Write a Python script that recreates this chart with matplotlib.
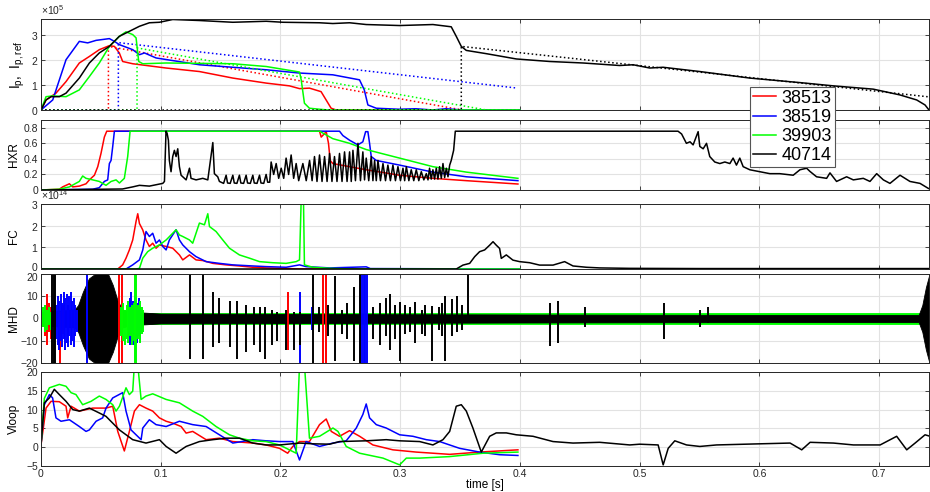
import numpy as np
import matplotlib
matplotlib.use('Agg')
import matplotlib.pyplot as plt
import matplotlib.transforms as mtransforms
from matplotlib.ticker import FuncFormatter

plt.rcParams['font.family'] = ['Liberation Sans', 'DejaVu Sans']
plt.rcParams['mathtext.fontset'] = 'custom'
plt.rcParams['mathtext.rm'] = 'Liberation Sans'

shots = ['38513', '38519', '39903', '40714']
colors = ['#ff0000', '#0000ff', '#00ff00', '#000000']

# ---- Ip (units of 1e5 A), pairs (t [s], value)
ip_red = [(0, 0), (0.0042, 0.4), (0.0125, 0.67), (0.0209, 1.13), (0.032, 1.87), (0.0404, 2.13),
          (0.0487, 2.4), (0.0571, 2.56), (0.0613, 2.53), (0.0654, 2.27), (0.0682, 1.93),
          (0.0766, 1.84), (0.1045, 1.67), (0.1323, 1.53), (0.1602, 1.27), (0.1881, 1.07),
          (0.2075, 0.96), (0.2159, 0.85), (0.2242, 0.87), (0.2339, 0.73), (0.2381, 0.4),
          (0.2423, 0.07), (0.2465, 0), (0.4, 0)]
ip_blue = [(0, 0), (0.0098, 0.4), (0.0209, 2.0), (0.032, 2.73), (0.039, 2.67), (0.046, 2.77),
           (0.0571, 2.84), (0.0613, 2.73), (0.0654, 2.6), (0.0766, 2.4), (0.0822, 2.2),
           (0.0864, 2.27), (0.0961, 2.07), (0.1323, 1.8), (0.1881, 1.6), (0.2159, 1.47),
           (0.2437, 1.4), (0.266, 1.2), (0.270, 0.8), (0.273, 0.2), (0.28, 0.07), (0.299, 0.03),
           (0.313, 0.05), (0.327, 0), (0.338, 0.05), (0.352, 0), (0.4, 0)]
ip_green = [(0, 0), (0.0042, 0.53), (0.0098, 0.56), (0.0209, 0.53), (0.032, 0.8), (0.0404, 1.33),
            (0.0487, 1.87), (0.0571, 2.53), (0.0654, 2.93), (0.071, 3.11), (0.0766, 3.0),
            (0.0794, 2.87), (0.0816, 1.93), (0.085, 1.84), (0.1045, 1.87), (0.1602, 1.84),
            (0.1881, 1.73), (0.2159, 1.51), (0.2173, 1.2), (0.22, 0.27), (0.2242, 0.07),
            (0.2326, 0.03), (0.24, 0), (0.4, 0)]
ip_black = [(0, 0), (0.0042, 0.4), (0.0084, 0.53), (0.0153, 0.53), (0.0209, 0.67), (0.032, 1.27),
            (0.0404, 1.87), (0.0487, 2.27), (0.0571, 2.53), (0.0654, 2.93), (0.0738, 3.13),
            (0.0822, 3.33), (0.0905, 3.47), (0.0989, 3.49), (0.11, 3.6), (0.1323, 3.56),
            (0.1602, 3.49), (0.1881, 3.53), (0.202, 3.49), (0.2326, 3.47), (0.2437, 3.44),
            (0.2577, 3.47), (0.2716, 3.4), (0.2995, 3.36), (0.3273, 3.4), (0.3426, 3.31),
            (0.3468, 2.93), (0.351, 2.53), (0.3552, 2.37), (0.372, 2.24), (0.397, 2.03),
            (0.4248, 1.93), (0.4527, 1.87), (0.4833, 1.77), (0.4945, 1.8), (0.5084, 1.67),
            (0.5195, 1.7), (0.5502, 1.53), (0.592, 1.27), (0.6338, 1.09), (0.6617, 0.96),
            (0.695, 0.83), (0.7173, 0.6), (0.7313, 0.4), (0.7383, 0.2), (0.7416, 0)]
ipref_red = [(0, 0), (0.0563, 0), (0.0563, 2.53), (0.352, 0), (0.4, 0)]
ipref_blue = [(0, 0), (0.0646, 0), (0.0646, 2.68), (0.398, 0.87)]
ipref_green = [(0, 0), (0.0802, 0), (0.0802, 2.47), (0.372, 0), (0.4, 0)]
ipref_black = [(0, 0), (0.351, 0), (0.351, 2.53), (0.742, 0.52)]

# ---- HXR
hxr_red = [(0, 0), (0.0153, 0.01), (0.0181, 0.04), (0.0237, 0.08), (0.0265, 0.04), (0.032, 0.05),
           (0.0376, 0.08), (0.0404, 0.13), (0.0446, 0.19), (0.0474, 0.3), (0.0501, 0.47),
           (0.0529, 0.68), (0.0549, 0.756), (0.2326, 0.756), (0.234, 0.68), (0.2382, 0.75),
           (0.2401, 0.6), (0.2415, 0.38), (0.2437, 0.34), (0.2577, 0.3), (0.2716, 0.26),
           (0.2995, 0.19), (0.3273, 0.15), (0.3552, 0.12), (0.3983, 0.077)]
hxr_blue = [(0, 0), (0.0432, 0.01), (0.0487, 0.03), (0.0529, 0.11), (0.0557, 0.13), (0.0571, 0.34),
            (0.0585, 0.38), (0.0599, 0.56), (0.0613, 0.756), (0.2493, 0.756), (0.2521, 0.7),
            (0.2577, 0.64), (0.2646, 0.58), (0.2688, 0.62), (0.2711, 0.75), (0.273, 0.75),
            (0.2744, 0.6), (0.2758, 0.43), (0.28, 0.38), (0.2995, 0.32), (0.3273, 0.23),
            (0.3552, 0.17), (0.3983, 0.12)]
hxr_green = [(0, 0), (0.0153, 0.01), (0.0237, 0.04), (0.032, 0.11), (0.0348, 0.18), (0.0376, 0.15),
             (0.0432, 0.13), (0.0487, 0.11), (0.0543, 0.06), (0.0585, 0.11), (0.0627, 0.13),
             (0.0655, 0.09), (0.0696, 0.15), (0.0724, 0.43), (0.0744, 0.756), (0.2326, 0.756),
             (0.2437, 0.66), (0.2577, 0.6), (0.2716, 0.52), (0.2995, 0.41), (0.3273, 0.3),
             (0.3552, 0.23), (0.3983, 0.15)]
hxr_black = [(0, 0), (0.0487, 0.01), (0.068, 0.013), (0.0766, 0.04), (0.0822, 0.06), (0.0905, 0.05),
             (0.1017, 0.085), (0.1031, 0.11), (0.1044, 0.756), (0.1053, 0.73), (0.1064, 0.64),
             (0.1072, 0.38), (0.1086, 0.235), (0.11, 0.43), (0.1114, 0.51), (0.1128, 0.43),
             (0.1142, 0.53), (0.1156, 0.3), (0.117, 0.19), (0.1212, 0.13), (0.124, 0.28),
             (0.1253, 0.15), (0.1295, 0.13), (0.1351, 0.15), (0.1393, 0.13), (0.1435, 0.61),
             (0.1448, 0.21), (0.1476, 0.17), (0.149, 0.11), (0.1525, 0.085), (0.1546, 0.19),
             (0.1558, 0.09), (0.158, 0.085), (0.1602, 0.19), (0.1614, 0.09), (0.1636, 0.085),
             (0.1657, 0.19), (0.1669, 0.09), (0.1692, 0.085), (0.1713, 0.19), (0.1725, 0.09),
             (0.1748, 0.085), (0.1769, 0.19), (0.1781, 0.09), (0.1804, 0.085), (0.1825, 0.19),
             (0.1837, 0.09), (0.186, 0.085), (0.188, 0.2), (0.1893, 0.1), (0.191, 0.1),
             (0.1922, 0.36), (0.1943, 0.2),
             (0.1964, 0.34), (0.1985, 0.15), (0.2006, 0.28), (0.2027, 0.15), (0.2047, 0.41),
             (0.2068, 0.2), (0.2089, 0.45), (0.211, 0.15), (0.2131, 0.34), (0.2152, 0.12),
             (0.2187, 0.34), (0.2215, 0.12), (0.2243, 0.38), (0.2264, 0.12), (0.2284, 0.43),
             (0.2305, 0.11), (0.2326, 0.45), (0.2347, 0.11), (0.2368, 0.43), (0.2389, 0.11),
             (0.241, 0.47), (0.243, 0.11), (0.2451, 0.43), (0.2472, 0.11), (0.2493, 0.47),
             (0.2514, 0.11), (0.2535, 0.49), (0.2556, 0.11), (0.2577, 0.49), (0.2591, 0.11),
             (0.2605, 0.51), (0.2626, 0.12), (0.2647, 0.6), (0.2668, 0.12), (0.2688, 0.49),
             (0.2702, 0.13), (0.2716, 0.41), (0.2737, 0.12), (0.2758, 0.43), (0.2772, 0.12),
             (0.2786, 0.38), (0.28, 0.12), (0.2814, 0.38), (0.2835, 0.12), (0.2856, 0.34),
             (0.2877, 0.12), (0.2897, 0.32), (0.2918, 0.12), (0.2939, 0.32), (0.296, 0.12),
             (0.2981, 0.3), (0.3002, 0.12), (0.3023, 0.28), (0.3037, 0.12), (0.3051, 0.3),
             (0.3072, 0.12), (0.3092, 0.26), (0.3113, 0.12), (0.3134, 0.26), (0.3155, 0.12),
             (0.3176, 0.235), (0.3197, 0.13), (0.3218, 0.21), (0.3232, 0.13), (0.3245, 0.28),
             (0.3259, 0.14), (0.3273, 0.26), (0.3287, 0.14), (0.3301, 0.28), (0.3315, 0.14),
             (0.3329, 0.3), (0.3343, 0.15), (0.3357, 0.34), (0.3371, 0.16), (0.3385, 0.28),
             (0.3399, 0.17), (0.3413, 0.32), (0.3426, 0.38), (0.3446, 0.51), (0.346, 0.756),
             (0.532, 0.756), (0.535, 0.72), (0.539, 0.6), (0.542, 0.62), (0.5446, 0.58),
             (0.5488, 0.75), (0.5502, 0.56), (0.553, 0.53), (0.5558, 0.6), (0.5585, 0.43),
             (0.5627, 0.36), (0.5669, 0.34), (0.5711, 0.36), (0.5753, 0.34), (0.578, 0.41),
             (0.5808, 0.32), (0.5836, 0.41), (0.5864, 0.3), (0.592, 0.26), (0.6003, 0.235),
             (0.6087, 0.21), (0.617, 0.21), (0.6282, 0.19), (0.6338, 0.26), (0.6394, 0.28),
             (0.6421, 0.24), (0.6477, 0.17), (0.6561, 0.15), (0.6589, 0.22), (0.6644, 0.11),
             (0.6728, 0.17), (0.6784, 0.13), (0.6867, 0.15), (0.6923, 0.11), (0.6979, 0.21),
             (0.7035, 0.13), (0.709, 0.085), (0.7174, 0.19), (0.7257, 0.11), (0.7341, 0.085),
             (0.7411, 0.02)]

# ---- FC (units of 1e14)
fc_red = [(0, 0), (0.0641, 0), (0.0682, 0.19), (0.071, 0.5), (0.0738, 0.88), (0.0766, 1.34),
          (0.0794, 2.2), (0.0808, 2.55), (0.0822, 2.1), (0.085, 1.8), (0.0877, 1.34),
          (0.0905, 1.04), (0.0933, 1.19), (0.0961, 0.96), (0.0989, 1.11), (0.1045, 1.04),
          (0.11, 0.96), (0.1156, 0.65), (0.1184, 0.42), (0.124, 0.65), (0.1295, 0.42),
          (0.1351, 0.39), (0.1435, 0.26), (0.1546, 0.19), (0.1657, 0.14), (0.1769, 0.08),
          (0.188, 0.05), (0.202, 0.03), (0.2159, 0), (0.4, 0)]
fc_blue = [(0, 0), (0.071, 0), (0.0766, 0.19), (0.0822, 0.42), (0.085, 0.88), (0.0877, 1.73),
           (0.0905, 1.5), (0.0933, 1.65), (0.0961, 1.19), (0.0989, 1.34), (0.1017, 1.04),
           (0.1045, 0.88), (0.1072, 1.34), (0.1128, 1.81), (0.1156, 1.34), (0.1184, 1.11),
           (0.124, 0.8), (0.1295, 0.57), (0.1379, 0.34), (0.149, 0.26), (0.1602, 0.19),
           (0.1769, 0.14), (0.188, 0.11), (0.2047, 0.08), (0.2159, 0.19), (0.2214, 0.11),
           (0.241, 0.05), (0.2716, 0.1), (0.275, 0.02), (0.4, 0)]
fc_green = [(0, 0), (0.0794, 0), (0.0822, 0.03), (0.085, 0.5), (0.0891, 0.8), (0.0933, 0.96),
            (0.0989, 1.11), (0.1045, 1.34), (0.11, 1.65), (0.1128, 1.81), (0.1156, 1.57),
            (0.1184, 1.5), (0.124, 1.34), (0.1267, 1.19), (0.1323, 2.12), (0.1365, 2.04),
            (0.1393, 2.55), (0.1407, 1.96), (0.1462, 1.73), (0.1518, 1.34), (0.1574, 0.96),
            (0.1657, 0.65), (0.1741, 0.5), (0.1825, 0.34), (0.1936, 0.29), (0.2047, 0.26),
            (0.2131, 0.34), (0.2159, 0.42), (0.2173, 3.2), (0.2192, 3.2), (0.22, 0.19),
            (0.227, 0.08), (0.241, 0.03), (0.26, 0), (0.4, 0)]
fc_black = [(0, 0), (0.3468, 0), (0.3524, 0.18), (0.358, 0.26), (0.3622, 0.57), (0.3663, 0.8),
            (0.3705, 0.88), (0.3747, 1.1), (0.3775, 1.26), (0.3802, 1.1), (0.383, 0.95),
            (0.3844, 0.49), (0.3886, 0.65), (0.3941, 0.41), (0.3997, 0.34), (0.4081, 0.29),
            (0.4164, 0.18), (0.4276, 0.18), (0.4373, 0.34), (0.4443, 0.14), (0.4555, 0.08),
            (0.4666, 0.05), (0.4917, 0.03), (0.55, 0.02), (0.65, 0.02), (0.742, 0.02)]

# ---- MHD: noise bands (t, upper, lower) and single bursts (t, upper, lower)
mhd_env_red = [(0, 1.5, -1.5), (0.742, 1.5, -1.5)]
mhd_env_blue = [(0, 2, -2), (0.742, 1.5, -1.5)]
mhd_env_green = [(0, 2.5, -2.5), (0.742, 2.5, -2.5)]
mhd_env_black = [(0, 3, -3), (0.028, 4, -4), (0.031, 6, -6), (0.035, 12, -12), (0.04, 18, -18),
                 (0.045, 20, -20), (0.056, 20, -20), (0.06, 15, -15), (0.064, 8, -8),
                 (0.068, 4, -4), (0.075, 3, -3), (0.1, 2.2, -2.2), (0.4, 1.8, -1.8),
                 (0.6, 1.6, -1.6), (0.733, 1.6, -1.6), (0.736, 6, -6), (0.739, 14, -14),
                 (0.742, 20, -20)]
mhd_spk_red = [(0.003, 6, -8), (0.005, 11, -12), (0.0065, 7, -6), (0.008, 5, -9), (0.0155, 3, -20),
               (0.018, 6, -7), (0.0655, 20, -20), (0.0675, 20, -20), (0.206, 12, -14),
               (0.2355, 20, -20), (0.238, 20, -20)]
mhd_spk_blue = [(0.0125, 6, -9), (0.0138, 10, -12), (0.015, 8, -14), (0.0163, 11, -10),
                (0.0175, 7, -13), (0.0188, 12, -9), (0.02, 9, -14), (0.0213, 11, -11),
                (0.0225, 6, -13), (0.0238, 10, -8), (0.025, 12, -12), (0.0263, 8, -10),
                (0.0275, 9, -13), (0.0288, 6, -8), (0.03, 4, -6), (0.038, 20, -20),
                (0.0725, 6, -8), (0.074, 9, -12), (0.0755, 12, -10), (0.077, 8, -12),
                (0.0785, 10, -9), (0.08, 7, -11), (0.0815, 9, -8), (0.083, 6, -10),
                (0.0845, 4, -6), (0.216, 12, -20), (0.2265, 5, -5), (0.2665, 20, -20),
                (0.268, 20, -20), (0.2695, 20, -20), (0.271, 20, -20), (0.2725, 20, -20)]
mhd_spk_green = [(0.0003, 14, -8), (0.002, 5, -4), (0.0035, 6, -6), (0.005, 4, -5),
                 (0.0065, 5, -3), (0.008, 3, -5), (0.067, 5, -8), (0.0685, 7, -10),
                 (0.07, 4, -12), (0.0715, 6, -9), (0.073, 8, -11), (0.0745, 5, -8),
                 (0.076, 6, -12), (0.0775, 7, -10), (0.0785, 20, -20), (0.0795, 20, -20),
                 (0.081, 6, -9), (0.0825, 8, -11), (0.084, 5, -7), (0.0855, 4, -6)]
mhd_spk_black = [(0.0095, 20, -20), (0.0105, 20, -20), (0.0115, 20, -20), (0.1245, 20, -18),
                 (0.1356, 20, -18), (0.1437, 12, -13), (0.149, 9, -11), (0.158, 8, -13),
                 (0.164, 8, -18), (0.171, 6, -15), (0.178, 5, -12), (0.183, 5, -15),
                 (0.187, 5, -18), (0.193, 4, -12), (0.197, 3, -10), (0.205, 4, -14),
                 (0.211, 3, -14), (0.216, 3, -12), (0.2275, 20, -20), (0.232, 5, -6),
                 (0.24, 6, -8), (0.2456, 19, -19), (0.251, 4, -7), (0.2555, 7, -9),
                 (0.261, 14, -19), (0.2665, 20, -20), (0.277, 5, -9), (0.283, 7, -12),
                 (0.2885, 9, -8), (0.2916, 11, -14), (0.296, 6, -9), (0.300, 7.5, -19),
                 (0.304, 6, -7), (0.308, 5, -6), (0.3125, 7.5, -11), (0.318, 4, -7),
                 (0.321, 6, -8), (0.3264, 5.7, -19), (0.332, 5, -5), (0.335, 7, -8),
                 (0.3375, 10, -19), (0.343, 8.7, -8), (0.347, 10, -6), (0.352, 6, -5),
                 (0.357, 19.5, -2), (0.4252, 7, -12.5), (0.432, 8, -11), (0.4545, 5, -4),
                 (0.52, 7, -9), (0.5505, 4, -4), (0.557, 5, -2)]

# ---- Vloop
vl_red = [(0, 0.6), (0.0042, 10.4), (0.0084, 12.2), (0.0153, 12.1), (0.0209, 10.9), (0.0223, 7.8),
          (0.0251, 10.9), (0.032, 9.6), (0.0432, 10.4), (0.0543, 10.4), (0.0599, 10.9),
          (0.0641, 4.2), (0.0696, -1.0), (0.0738, 4.2), (0.078, 9.6), (0.0822, 11.3),
          (0.0877, 10.4), (0.0933, 9.6), (0.0989, 7.8), (0.1045, 6.9), (0.11, 6.4), (0.117, 5.5),
          (0.1212, 3.75), (0.1267, 4.2), (0.1379, 2.0), (0.149, 2.4), (0.1602, 1.5),
          (0.1769, 1.1), (0.188, 0.6), (0.1992, -0.3), (0.206, -1.6), (0.2103, 0.2),
          (0.2159, 1.5), (0.2242, 1.5), (0.2326, 6.0), (0.2382, 7.5), (0.2424, 4.2),
          (0.2493, 2.9), (0.2577, 4.4), (0.2661, 2.9), (0.2772, 0.6), (0.2939, -0.7),
          (0.3134, -1.3), (0.3413, -1.9), (0.3663, -1.3), (0.3983, -0.7)]
vl_blue = [(0, 0.6), (0.0028, 11.3), (0.007, 14.0), (0.0097, 13.1), (0.0125, 7.8), (0.0167, 6.9),
           (0.0237, 7.3), (0.032, 5.5), (0.0376, 4.2), (0.0404, 4.6), (0.046, 6.9), (0.0515, 7.8),
           (0.0543, 10.4), (0.0599, 13.1), (0.0682, 14.5), (0.071, 9.6), (0.0752, 4.6),
           (0.0836, 2.0), (0.085, 5.1), (0.0905, 7.3), (0.0961, 6.0), (0.1045, 5.5),
           (0.1156, 6.9), (0.1267, 6.0), (0.1379, 5.5), (0.149, 3.3), (0.1602, 1.1),
           (0.1769, 2.0), (0.188, 1.7), (0.1992, 1.5), (0.2103, 1.5), (0.2159, -3.4),
           (0.2214, 1.5), (0.2326, 0.2), (0.2438, 1.1), (0.2549, 1.7), (0.2633, 5.1),
           (0.2688, 8.7), (0.2716, 11.5), (0.2744, 7.8), (0.28, 6.0), (0.2883, 5.1),
           (0.2995, 3.3), (0.3106, 2.9), (0.3218, 2.0), (0.3329, 1.5), (0.3496, -0.3),
           (0.3663, -1.3), (0.383, -2.0), (0.3983, -2.2)]
vl_green = [(0, 0.6), (0.0028, 13.0), (0.007, 15.8), (0.0153, 16.7), (0.0209, 16.2), (0.0251, 14.5),
            (0.0292, 14.0), (0.0348, 11.3), (0.0418, 12.2), (0.0487, 13.6), (0.0543, 12.7),
            (0.0599, 11.3), (0.0627, 9.6), (0.0655, 10.9), (0.071, 15.8), (0.0738, 14.0),
            (0.0766, 14.9), (0.078, 22), (0.0808, 22), (0.0836, 12.7), (0.0877, 13.6),
            (0.0933, 14.2), (0.1045, 12.7), (0.1156, 11.8), (0.1267, 9.6), (0.1351, 8.2),
            (0.1462, 5.5), (0.1574, 3.3), (0.1657, 2.4), (0.1769, 1.7), (0.188, 1.5),
            (0.1992, 0.6), (0.2131, -1.6), (0.2159, 22), (0.22, 22), (0.2242, 2.4),
            (0.2326, 2.9), (0.2438, 5.1), (0.248, 4.2), (0.2549, 0.2), (0.2661, -1.6),
            (0.2856, -2.9), (0.2995, -4.7), (0.3051, -2.9), (0.3162, -2.9), (0.3413, -2.5),
            (0.3691, -1.6), (0.3983, -1.3)]
vl_black = [(0, 0.6), (0.0028, 11.8), (0.007, 13.1), (0.0111, 15.4), (0.0153, 14.0), (0.0209, 12.2),
            (0.0265, 10.0), (0.032, 9.6), (0.0404, 10.4), (0.0487, 9.1), (0.0543, 8.2),
            (0.0599, 6.4), (0.0655, 4.6), (0.0766, 2.0), (0.0877, 1.1), (0.0989, 2.0),
            (0.1045, 0.2), (0.1128, -1.6), (0.1212, 0.2), (0.1323, 1.5), (0.1435, 2.0),
            (0.1546, 2.4), (0.1657, 2.4), (0.1769, 1.1), (0.188, 0.6), (0.1992, 0.6),
            (0.2159, 1.1), (0.227, 0.9), (0.241, 0.8), (0.2493, 1.5), (0.2716, 1.7),
            (0.2883, 2.0), (0.2995, 1.7), (0.3162, 1.5), (0.3273, 0.6), (0.3357, 2.0),
            (0.3413, 4.2), (0.3468, 10.9), (0.351, 11.3), (0.3552, 9.6), (0.3607, 5.1),
            (0.3677, -1.3), (0.3747, 2.9), (0.3802, 3.8), (0.3886, 3.8), (0.3969, 3.3),
            (0.4109, 2.9), (0.4276, 1.5), (0.4443, 1.1), (0.4666, 1.3), (0.4917, 0.6),
            (0.5, 0.8), (0.5154, 0.6), (0.5196, -4.7), (0.5238, -0.3), (0.5293, 1.7),
            (0.5391, 0.6), (0.5502, 0.2), (0.5642, 0.6), (0.6004, 0.9), (0.6256, 1.1),
            (0.6353, -0.7), (0.6423, 1.3), (0.6618, 1.1), (0.6785, 0.6), (0.7008, 0.6),
            (0.7146, 2.9), (0.723, -0.7), (0.73, 1.1), (0.7383, 3.3), (0.7425, 2.9)]

ip = [ip_red, ip_blue, ip_green, ip_black]
ipref = [ipref_red, ipref_blue, ipref_green, ipref_black]
hxr = [hxr_red, hxr_blue, hxr_green, hxr_black]
fc = [fc_red, fc_blue, fc_green, fc_black]
mhd_env = [mhd_env_red, mhd_env_blue, mhd_env_green, mhd_env_black]
mhd_spk = [mhd_spk_red, mhd_spk_blue, mhd_spk_green, mhd_spk_black]
vloop = [vl_red, vl_blue, vl_green, vl_black]

fig = plt.figure(figsize=(9.3, 4.92), dpi=100)
H = 492.0
L, R = 41 / 930, 929 / 930
rows = [(19, 110), (120, 190), (204, 269), (274, 363), (372, 466)]
axes = [fig.add_axes([L, 1 - b / H, R - L, (b - t) / H]) for t, b in rows]
ax1, ax2, ax3, ax4, ax5 = axes

gfmt = FuncFormatter(lambda v, p: '%g' % v)
for ax in axes:
    ax.set_xlim(0, 0.7416)
    ax.set_xticks(np.arange(0, 0.75, 0.1))
    ax.grid(True, color='#e2e2e2', lw=0.8)
    ax.set_axisbelow(True)
    ax.tick_params(direction='in', top=True, right=True, length=3, width=0.6,
                   labelsize=7.5, colors='#262626', labelcolor='#262626', pad=2)
    for s in ax.spines.values():
        s.set_linewidth(0.7)
        s.set_color('#262626')
    if ax is not ax5:
        ax.tick_params(labelbottom=False)

# Ip
lines = []
for d, r, c in zip(ip, ipref, colors):
    t, v = np.array(d).T
    ln, = ax1.plot(t, v * 1e5, color=c, lw=1.1)
    lines.append(ln)
    t, v = np.array(r).T
    ax1.plot(t, v * 1e5, color=c, lw=1.1, ls=':')
ax1.set_ylim(0, 3.62e5)
ax1.set_yticks([0, 1e5, 2e5, 3e5])
ax1.ticklabel_format(axis='y', style='sci', scilimits=(0, 0), useMathText=True)
ax1.yaxis.get_offset_text().set_fontsize(7.5)
ax1.set_ylabel(r'$\mathrm{I_p,\ I_{p,ref}}$', fontsize=10)

# HXR
for d, c in zip(hxr, colors):
    t, v = np.array(d).T
    ax2.plot(t, v, color=c, lw=1.1)
ax2.set_ylim(0, 0.9)
ax2.set_yticks([0, 0.2, 0.4, 0.6, 0.8])
ax2.yaxis.set_major_formatter(gfmt)
ax2.set_ylabel('HXR', fontsize=8.5)

# FC
for d, c in zip(fc, colors):
    t, v = np.array(d).T
    ax3.plot(t, v * 1e14, color=c, lw=1.1)
ax3.set_ylim(0, 3e14)
ax3.set_yticks([0, 1e14, 2e14, 3e14])
ax3.ticklabel_format(axis='y', style='sci', scilimits=(0, 0), useMathText=True)
ax3.yaxis.get_offset_text().set_fontsize(7.5)
ax3.set_ylabel('FC', fontsize=8.5)

# MHD
for env, spk, c in zip(mhd_env, mhd_spk, colors):
    t, hi, lo = np.array(env).T
    ax4.fill_between(t, lo, hi, color=c, lw=0.6, edgecolor=c)
    t, hi, lo = np.array(spk).T
    ax4.vlines(t, lo, hi, color=c, lw=1.4)
ax4.set_ylim(-20, 20)
ax4.set_yticks([-20, -10, 0, 10, 20])
ax4.set_ylabel('MHD', fontsize=8.5)

# Vloop
for d, c in zip(vloop, colors):
    t, v = np.array(d).T
    ax5.plot(t, v, color=c, lw=1.1)
ax5.set_ylim(-5, 20)
ax5.set_yticks([-5, 0, 5, 10, 15, 20])
ax5.set_ylabel('Vloop', fontsize=8.5)
ax5.xaxis.set_major_formatter(gfmt)
ax5.set_xlabel('time [s]', fontsize=8.5, labelpad=0)

for ax in axes:
    ax.yaxis.set_label_coords(-0.024, 0.5)
ax1.yaxis.set_label_coords(-0.016, 0.5)

# keep the touching end labels of neighbouring panels apart, as in the original
up = mtransforms.ScaledTranslation(0, 2.5 / 72, fig.dpi_scale_trans)
down = mtransforms.ScaledTranslation(0, -2.5 / 72, fig.dpi_scale_trans)
fig.canvas.draw()
ax3.get_yticklabels()[0].set_transform(ax3.get_yticklabels()[0].get_transform() + up)
ax4.get_yticklabels()[-1].set_transform(ax4.get_yticklabels()[-1].get_transform() + down)

leg = fig.legend(lines, shots, loc='upper left', bbox_to_anchor=(750 / 930, 1 - 87 / H),
                 fontsize=13, handlelength=1.3, handletextpad=0.3, borderpad=0.15,
                 labelspacing=0.12, fancybox=False, framealpha=1, edgecolor='#555555',
                 borderaxespad=0)
leg.get_frame().set_linewidth(0.8)

fig.savefig('out.png', dpi=100)
